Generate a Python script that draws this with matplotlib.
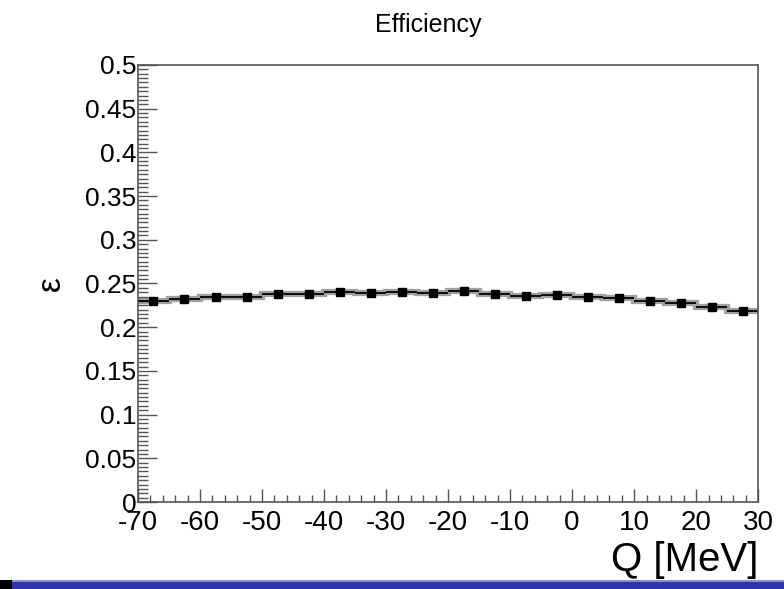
import numpy as np
import matplotlib
matplotlib.use("Agg")
import matplotlib.pyplot as plt
from matplotlib.ticker import MultipleLocator
from matplotlib.patches import Rectangle

plt.rcParams['font.family'] = ['Liberation Sans', 'DejaVu Sans']
plt.rcParams['axes.unicode_minus'] = False

# efficiency per Q bin (5 MeV bins from -70 to 30)
bin_edges = np.arange(-70, 30 + 1, 5)
efficiency = [0.230, 0.232, 0.234, 0.235, 0.238, 0.238, 0.240, 0.239, 0.240, 0.239,
              0.241, 0.238, 0.236, 0.237, 0.235, 0.233, 0.230, 0.228, 0.2235, 0.219]
eff_err = [0.001] * 20

centers = 0.5 * (bin_edges[:-1] + bin_edges[1:])
half_width = np.diff(bin_edges) / 2

fig = plt.figure(figsize=(7.84, 5.89), dpi=100)
ax = fig.add_axes([0.176, 0.1477, 0.791, 0.742])

ax.stairs(efficiency, bin_edges, color='#a0a0a0', lw=4.5, baseline=None)
ax.errorbar(centers, efficiency, xerr=half_width, yerr=eff_err, fmt='s',
            color='black', ms=6, lw=1.3, capsize=0)

ax.set_xlim(-70, 30)
ax.set_ylim(0, 0.5)
ax.xaxis.set_major_locator(MultipleLocator(10))
ax.xaxis.set_minor_locator(MultipleLocator(2))
ax.yaxis.set_major_locator(MultipleLocator(0.05))
ax.yaxis.set_minor_locator(MultipleLocator(0.005))
ax.yaxis.set_major_formatter(plt.FuncFormatter(lambda v, _: f'{v:g}'))

ax.tick_params(axis='x', which='major', direction='in', length=9.5, width=1,
               color='#555555', labelsize=20, pad=6, top=False)
ax.tick_params(axis='x', which='minor', direction='in', length=5, width=1,
               color='#555555', top=False)
ax.tick_params(axis='y', which='major', direction='in', length=14, width=1,
               color='#555555', labelsize=19, pad=1, right=False)
ax.tick_params(axis='y', which='minor', direction='in', length=7, width=1,
               color='#555555', right=False)
for s in ax.spines.values():
    s.set_color('#555555')
    s.set_linewidth(1.2)

ax.set_xlabel('Q [MeV]', fontsize=29, loc='right', labelpad=3)
ax.set_ylabel('ε', fontsize=24, rotation=90)
ax.yaxis.set_label_coords(-0.115, 0.5)
fig.text(0.546, 0.958, 'Efficiency', fontsize=18, ha='center', va='center')

# slide footer bar
fig.add_artist(Rectangle((0, 0), 1, 0.013, transform=fig.transFigure,
                         color='#3333aa', lw=0))
fig.add_artist(Rectangle((0, 0.012), 1, 0.003, transform=fig.transFigure,
                         color='#8c8cd0', lw=0))
fig.add_artist(Rectangle((0, 0), 0.015, 0.015, transform=fig.transFigure,
                         color='black', lw=0))

fig.savefig('out.png', dpi=100)
